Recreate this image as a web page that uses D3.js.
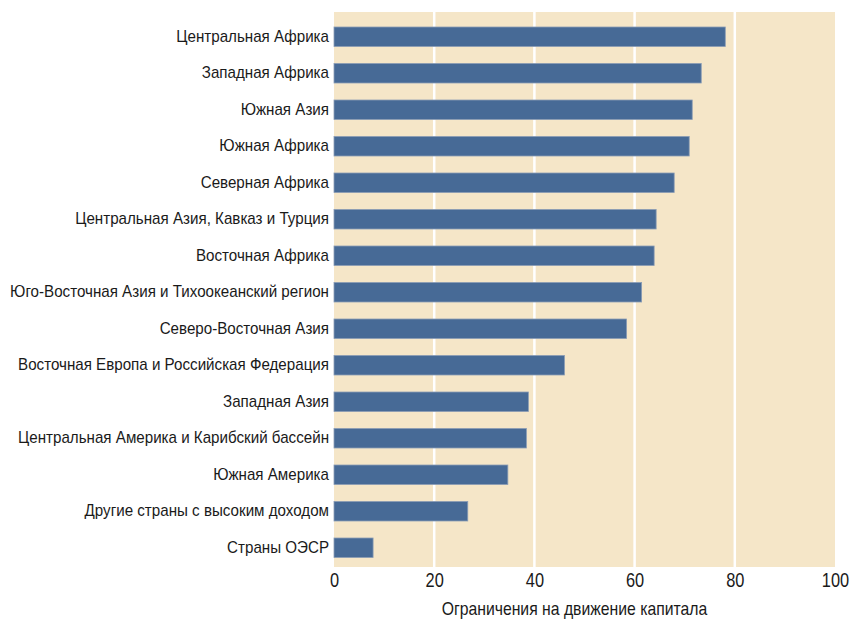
<!DOCTYPE html>
<html>
<head>
<meta charset="utf-8">
<script src="https://cdn.jsdelivr.net/npm/d3@7"></script>
<style>
  body { margin: 0; background: #fff; }
  text { font-family: "Liberation Sans", Arial, sans-serif; fill: #1a1a1a; }
</style>
</head>
<body>
<svg id="chart" width="850" height="619"></svg>
<script>
// regions, top to bottom
const regions = [
  "Центральная Африка",
  "Западная Африка",
  "Южная Азия",
  "Южная Африка",
  "Северная Африка",
  "Центральная Азия, Кавказ и Турция",
  "Восточная Африка",
  "Юго-Восточная Азия и Тихоокеанский регион",
  "Северо-Восточная Азия",
  "Восточная Европа и Российская Федерация",
  "Западная Азия",
  "Центральная Америка и Карибский бассейн",
  "Южная Америка",
  "Другие страны с высоким доходом",
  "Страны ОЭСР"
];
const restrictions = [78.1, 73.3, 71.5, 70.9, 67.9, 64.3, 63.9, 61.4, 58.4, 46.0, 38.8, 38.4, 34.7, 26.7, 7.8];
const xTicks = [0, 20, 40, 60, 80, 100];
const xTitle = "Ограничения на движение капитала";

// horizontal squeeze so the sans looks condensed
const labelSqueeze = 0.947,
  tickSqueeze = 0.82,
  titleSqueeze = 0.876;

const svg = d3.select("#chart"),
  margin = { top: 12, right: 15, bottom: 52, left: 334 },
  width = +svg.attr("width") - margin.left - margin.right,
  height = +svg.attr("height") - margin.top - margin.bottom,
  g = svg.append("g").attr("transform", `translate(${margin.left},${margin.top})`);

const x = d3.scaleLinear().domain([0, 100]).range([0, width]);
const y = d3.scaleBand().domain(regions).range([6.5, height - 1]).paddingInner(0.466).paddingOuter(0.233);

// background
g.append("rect")
  .attr("width", width)
  .attr("height", height)
  .attr("fill", "#f5e6c8");

// grid lines
g.append("g")
  .selectAll("line")
  .data(xTicks.filter((d) => d > 0 && d < 100))
  .enter()
  .append("line")
  .attr("x1", (d) => x(d))
  .attr("x2", (d) => x(d))
  .attr("y1", 0)
  .attr("y2", height)
  .attr("stroke", "#fff")
  .attr("stroke-width", 2.5);

// bars
g.append("g")
  .selectAll("rect")
  .data(restrictions)
  .enter()
  .append("rect")
  .attr("x", 0)
  .attr("y", (d, i) => y(regions[i]))
  .attr("width", (d) => x(d))
  .attr("height", y.bandwidth())
  .attr("fill", "#476a96")
  .attr("stroke", "#8a9cb5")
  .attr("stroke-width", 0.8);

// category labels
const yAxis = g.append("g")
  .call(d3.axisLeft(y).tickSize(0).tickPadding(4));
yAxis.select(".domain").remove();
yAxis.selectAll("text")
  .attr("font-size", 16)
  .attr("transform", `scale(${labelSqueeze},1)`)
  .attr("x", -5 / labelSqueeze);

// x axis
const xAxis = g.append("g")
  .attr("transform", `translate(0,${height})`)
  .call(d3.axisBottom(x).tickValues(xTicks).tickSize(0).tickPadding(6));
xAxis.select(".domain").remove();
xAxis.selectAll("text")
  .attr("font-size", 20)
  .attr("transform", `scale(${tickSqueeze},1)`);

g.append("text")
  .attr("transform", `translate(${width / 2 - 10},${height + 48}) scale(${titleSqueeze},1)`)
  .attr("text-anchor", "middle")
  .attr("font-size", 18)
  .text(xTitle);
</script>
</body>
</html>
